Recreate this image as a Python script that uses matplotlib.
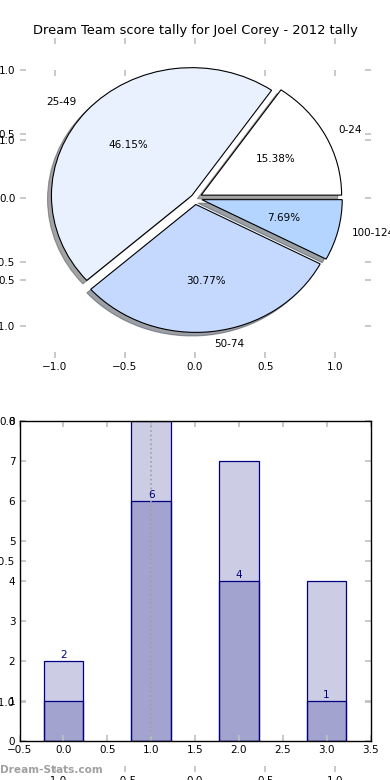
import matplotlib
matplotlib.use("Agg")
import matplotlib.pyplot as plt

# ---- data ----
title = "Dream Team score tally for Joel Corey - 2012 tally"
pie_labels = ["0-24", "25-49", "50-74", "100-124"]
pie_counts = [2, 6, 4, 1]
pie_colors = ["#ffffff", "#eaf1fe", "#c5d9ff", "#b3d5ff"]
pie_explode = [0.05, 0.03, 0.05, 0.05]

bar_x = [0, 1, 2, 3]
bar_total = [2, 8, 7, 4]
bar_part = [1, 6, 4, 1]
bar_label_vals = [2, 6, 4, 1]
mark_x = 1.0

tick_col = "#c0c0c0"
fs = 7.5

fig = plt.figure(figsize=(3.9, 7.8), dpi=100)

def style_ticks(ax):
    ax.tick_params(direction="in", length=4, width=1.2, color=tick_col,
                   labelsize=fs, pad=3, top=True, right=True)

# background axes (frameless, with ticks)
axb = fig.add_axes([0.05, 0.0105, 0.9, 0.9], zorder=0)
axb.set_xlim(-1.25, 1.25)
axb.set_ylim(-1.25, 1.25)
axb.set_frame_on(False)
axb.patch.set_visible(False)
axb.set_xticks([-1.0, -0.5, 0.0, 0.5, 1.0])
axb.set_yticks([-1.0, -0.5, 0.0, 0.5, 1.0])
style_ticks(axb)

# pie axes
ax1 = fig.add_axes([0.05, 0.541, 0.9, 0.41], zorder=1)
ax1.patch.set_visible(False)
wedges, texts, autotexts = ax1.pie(
    pie_counts, labels=pie_labels, colors=pie_colors, explode=pie_explode,
    autopct="%.2f%%", shadow=True, frame=True,
    wedgeprops=dict(edgecolor="black", linewidth=0.8),
    textprops=dict(fontsize=fs))
ax1.set_aspect("auto")
ax1.set_xlim(-1.25, 1.25)
ax1.set_ylim(-1.25, 1.25)
ax1.set_frame_on(False)
ax1.set_xticks([-1.0, -0.5, 0.0, 0.5, 1.0])
ax1.set_yticks([-1.0, -0.5, 0.0, 0.5, 1.0])
style_ticks(ax1)
ax1.set_title(title, fontsize=9.4, pad=3)

# bar axes
ax2 = fig.add_axes([0.05, 0.05, 0.9, 0.41], zorder=2)
ax2.patch.set_visible(False)
ax2.bar(bar_x, bar_total, width=0.45, color=(0, 0, 0.5, 0.2),
        edgecolor="navy", linewidth=0.9)
ax2.bar(bar_x, bar_part, width=0.45, color=(0, 0, 0.5, 0.2),
        edgecolor="navy", linewidth=0.9)
ax2.axvline(mark_x, color="#a0a0a0", linestyle=":", linewidth=1.2)
for x, v in zip(bar_x, bar_label_vals):
    ax2.text(x, v + 0.03, str(v), ha="center", va="bottom",
             color="navy", fontsize=fs)
ax2.set_xlim(-0.5, 3.5)
ax2.set_ylim(0, 8)
ax2.set_xticks([-0.5, 0.0, 0.5, 1.0, 1.5, 2.0, 2.5, 3.0, 3.5])
ax2.set_yticks(range(0, 9))
for s in ax2.spines.values():
    s.set_linewidth(1)
style_ticks(ax2)

fig.text(0.0, 0.0125, "Dream-Stats.com", color="#a0a0a0", fontsize=7.6,
         fontweight="bold", ha="left", va="center")

fig.savefig("out.png", dpi=100)
